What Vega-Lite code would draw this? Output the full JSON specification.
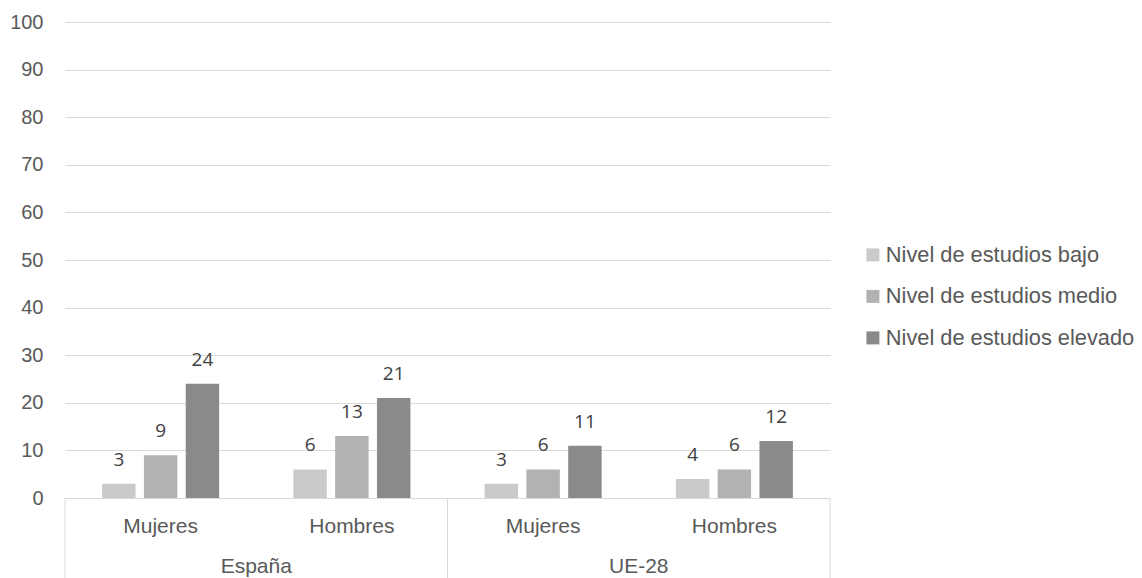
{
  "$schema": "https://vega.github.io/schema/vega-lite/v6.json",
  "width": 765,
  "height": 476,
  "autosize": {"type": "none"},
  "padding": {"left": 65, "top": 22, "right": 312, "bottom": 80},
  "background": "white",
  "config": {"view": {"stroke": null}, "font": "Liberation Sans"},
  "datasets": {
    "bars": [
      {"grupo": "España|Mujeres", "nivel": "Nivel de estudios bajo", "valor": 3},
      {"grupo": "España|Mujeres", "nivel": "Nivel de estudios medio", "valor": 9},
      {"grupo": "España|Mujeres", "nivel": "Nivel de estudios elevado", "valor": 24},
      {"grupo": "España|Hombres", "nivel": "Nivel de estudios bajo", "valor": 6},
      {"grupo": "España|Hombres", "nivel": "Nivel de estudios medio", "valor": 13},
      {"grupo": "España|Hombres", "nivel": "Nivel de estudios elevado", "valor": 21},
      {"grupo": "UE-28|Mujeres", "nivel": "Nivel de estudios bajo", "valor": 3},
      {"grupo": "UE-28|Mujeres", "nivel": "Nivel de estudios medio", "valor": 6},
      {"grupo": "UE-28|Mujeres", "nivel": "Nivel de estudios elevado", "valor": 11},
      {"grupo": "UE-28|Hombres", "nivel": "Nivel de estudios bajo", "valor": 4},
      {"grupo": "UE-28|Hombres", "nivel": "Nivel de estudios medio", "valor": 6},
      {"grupo": "UE-28|Hombres", "nivel": "Nivel de estudios elevado", "valor": 12}
    ],
    "frame": [{"x": 0}, {"x": 2}, {"x": 4}],
    "countries": [{"pais": "España", "x": 1}, {"pais": "UE-28", "x": 3}]
  },
  "layer": [
    {
      "data": {"name": "bars"},
      "encoding": {
        "x": {
          "field": "grupo",
          "type": "nominal",
          "sort": ["España|Mujeres", "España|Hombres", "UE-28|Mujeres", "UE-28|Hombres"],
          "scale": {"paddingInner": 0.388, "paddingOuter": 0.194},
          "axis": {
            "title": null,
            "labelExpr": "split(datum.label, '|')[1]",
            "ticks": false,
            "domainColor": "#d9d9d9",
            "labelFontSize": 21,
            "labelColor": "#595959",
            "labelPadding": 17,
            "labelAngle": 0,
            "grid": false
          }
        },
        "xOffset": {
          "field": "nivel",
          "type": "nominal",
          "sort": ["Nivel de estudios bajo", "Nivel de estudios medio", "Nivel de estudios elevado"],
          "scale": {"paddingInner": 0.2, "paddingOuter": 0}
        },
        "y": {
          "field": "valor",
          "type": "quantitative",
          "scale": {"domain": [0, 100]},
          "axis": {
            "title": null,
            "values": [0, 10, 20, 30, 40, 50, 60, 70, 80, 90, 100],
            "grid": true,
            "gridColor": "#d9d9d9",
            "domain": false,
            "ticks": false,
            "labelFontSize": 20,
            "labelColor": "#595959",
            "labelPadding": 22
          }
        }
      },
      "layer": [
        {
          "mark": {"type": "bar"},
          "encoding": {
            "color": {
              "field": "nivel",
              "type": "nominal",
              "scale": {
                "domain": ["Nivel de estudios bajo", "Nivel de estudios medio", "Nivel de estudios elevado"],
                "range": ["#cacaca", "#b2b2b2", "#8a8a8a"]
              },
              "legend": {
                "title": null,
                "orient": "none",
                "legendX": 797,
                "legendY": 222,
                "symbolType": "square",
                "symbolSize": 169,
                "symbolStrokeWidth": 0,
                "labelFontSize": 21.8,
                "labelColor": "#595959",
                "rowPadding": 18.5,
                "labelOffset": 2,
                "labelLimit": 400
              }
            }
          }
        },
        {
          "mark": {"type": "text", "dy": -24, "baseline": "middle", "font": "Open Sans", "fontSize": 19, "color": "#404040"},
          "encoding": {"text": {"field": "valor", "type": "quantitative"}}
        }
      ]
    },
    {
      "data": {"name": "frame"},
      "mark": {"type": "rule", "color": "#d9d9d9", "strokeWidth": 1},
      "encoding": {
        "x": {"field": "x", "type": "quantitative", "scale": {"domain": [0, 4]}, "axis": null},
        "y": {"datum": 0, "type": "quantitative", "scale": {"domain": [0, 100]}, "title": null},
        "y2": {"datum": -17}
      }
    },
    {
      "data": {"name": "countries"},
      "mark": {"type": "text", "baseline": "middle", "fontSize": 21, "color": "#595959"},
      "encoding": {
        "x": {"field": "x", "type": "quantitative", "scale": {"domain": [0, 4]}, "axis": null},
        "y": {"datum": -14.5, "type": "quantitative", "scale": {"domain": [0, 100]}, "title": null},
        "text": {"field": "pais"}
      }
    }
  ],
  "resolve": {"scale": {"x": "independent"}}
}
